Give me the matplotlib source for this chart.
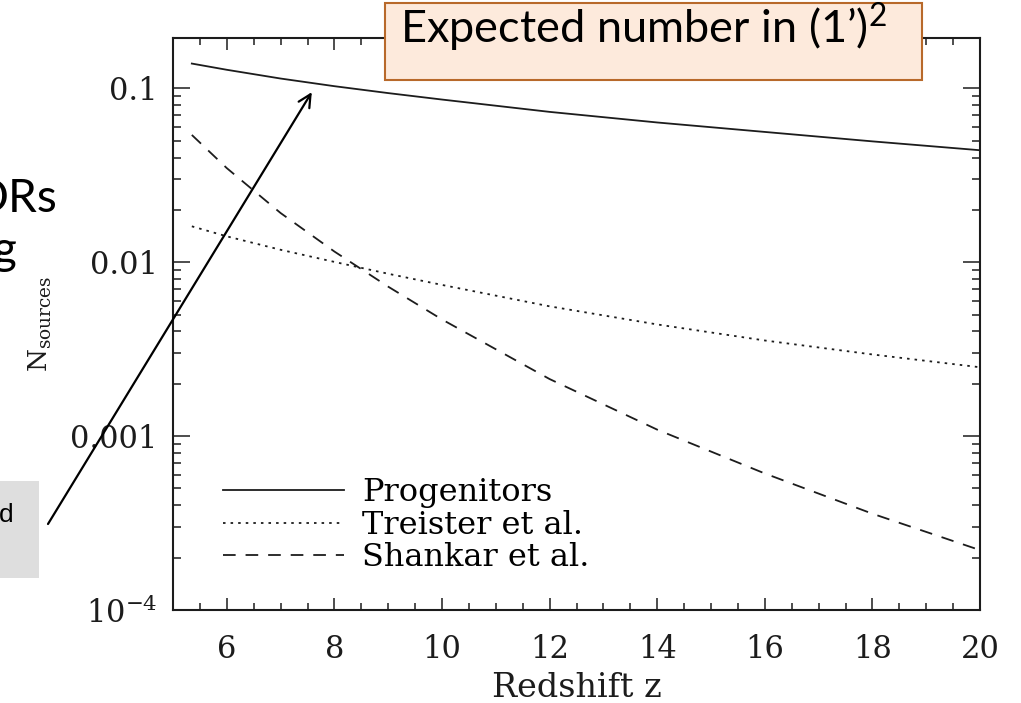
import numpy as np
import matplotlib.pyplot as plt
from matplotlib.patches import Rectangle
from matplotlib.ticker import MultipleLocator, NullFormatter

plt.rcParams['font.family'] = ['DejaVu Serif']
plt.rcParams['mathtext.fontset'] = 'dejavuserif'
plt.rcParams['mathtext.rm'] = 'Lato'

# values
z = [5.35, 6, 7, 8, 9, 10, 12, 14, 16, 18, 20]
progenitors = [0.139, 0.128, 0.114, 0.103, 0.094, 0.0863, 0.0733, 0.0637, 0.0562, 0.0496, 0.0441]
treister = [0.0161, 0.0141, 0.0118, 0.01005, 0.00859, 0.00741, 0.00558, 0.00439, 0.00355, 0.00295, 0.00249]
shankar = [0.0540, 0.0348, 0.0192, 0.01153, 0.00724, 0.00469, 0.00213, 0.00109, 6.1e-4, 3.58e-4, 2.21e-4]
series_labels = ['Progenitors', 'Treister et al.', 'Shankar et al.']

yticks = [1e-4, 1e-3, 1e-2, 1e-1]
ytick_labels = [r'$10^{-4}$', '0.001', '0.01', '0.1']
xticks = [6, 8, 10, 12, 14, 16, 18, 20]

W, H = 1021, 703
fig = plt.figure(figsize=(W / 100, H / 100), dpi=100)
ax = fig.add_axes([173 / W, 1 - 610 / H, (980 - 173) / W, (610 - 38) / H])

ink = '#1c1c1c'
ax.plot(z, progenitors, color=ink, lw=1.3, label=series_labels[0])
ax.plot(z, treister, color=ink, lw=1.3, linestyle=(0, (1.4, 2.8)), label=series_labels[1])
ax.plot(z, shankar, color=ink, lw=1.3, linestyle=(0, (7, 5.5)), label=series_labels[2])

ax.set_yscale('log')
ax.set_xlim(5.0, 20.0)
ax.set_ylim(1e-4, 0.195)
ax.set_xticks(xticks)
ax.xaxis.set_minor_locator(MultipleLocator(0.5))
ax.set_yticks(yticks, labels=ytick_labels)
ax.yaxis.set_minor_formatter(NullFormatter())

for s in ax.spines.values():
    s.set_linewidth(1.5)
    s.set_color(ink)
ax.tick_params(which='both', direction='in', top=True, right=True, width=1.1,
               colors=ink, labelsize=22)
ax.tick_params(axis='x', which='major', length=8.6, pad=17)
ax.tick_params(axis='x', which='minor', length=5)
ax.tick_params(axis='y', which='major', length=12, pad=11)
ax.tick_params(axis='y', which='minor', length=6)

ax.set_xlabel('Redshift z', fontsize=24, color=ink, labelpad=5)
ax.set_ylabel(r'$\mathrm{N_{sources}}$', fontsize=19, color=ink)
ax.yaxis.set_label_coords(-0.148, 0.5)

ax.legend(loc='lower left', bbox_to_anchor=(0.062, 0.064), frameon=False,
          fontsize=23, handlelength=3.78, handletextpad=0.58,
          labelspacing=0.05, borderpad=0, borderaxespad=0)

# slide overlays around the chart
fig.add_artist(Rectangle((0, H - 578), 39, 97, transform=None,
                         facecolor='#dedede', edgecolor='none'))
fig.text(13 / W, 1 - 522 / H, 'd', fontsize=19, family='Liberation Sans',
         ha='right', va='baseline')
fig.text(57 / W, 1 - 212 / H, 'DRs', fontsize=33, family='Lato',
         ha='right', va='baseline')
fig.text(16 / W, 1 - 264 / H, 'g', fontsize=33, family='Lato',
         ha='right', va='baseline')

fig.add_artist(Rectangle((385, H - 80), 537, 77, transform=None,
                         facecolor='#fdeadc', edgecolor='#b8692a', lw=1.5))
fig.text(400 / W, 1 - 43 / H, 'Expected number in (1\u2019)$^2$', fontsize=32.5,
         family='Lato', math_fontfamily='custom', ha='left', va='baseline')

ax.annotate('', xy=(7.58, 0.0952), xycoords='data',
            xytext=(48, H - 524), textcoords='figure pixels',
            arrowprops=dict(arrowstyle='->,head_length=0.9,head_width=0.45',
                            color='black', lw=1.6, shrinkA=0, shrinkB=0),
            annotation_clip=False)

fig.savefig('out.png', dpi=100)
